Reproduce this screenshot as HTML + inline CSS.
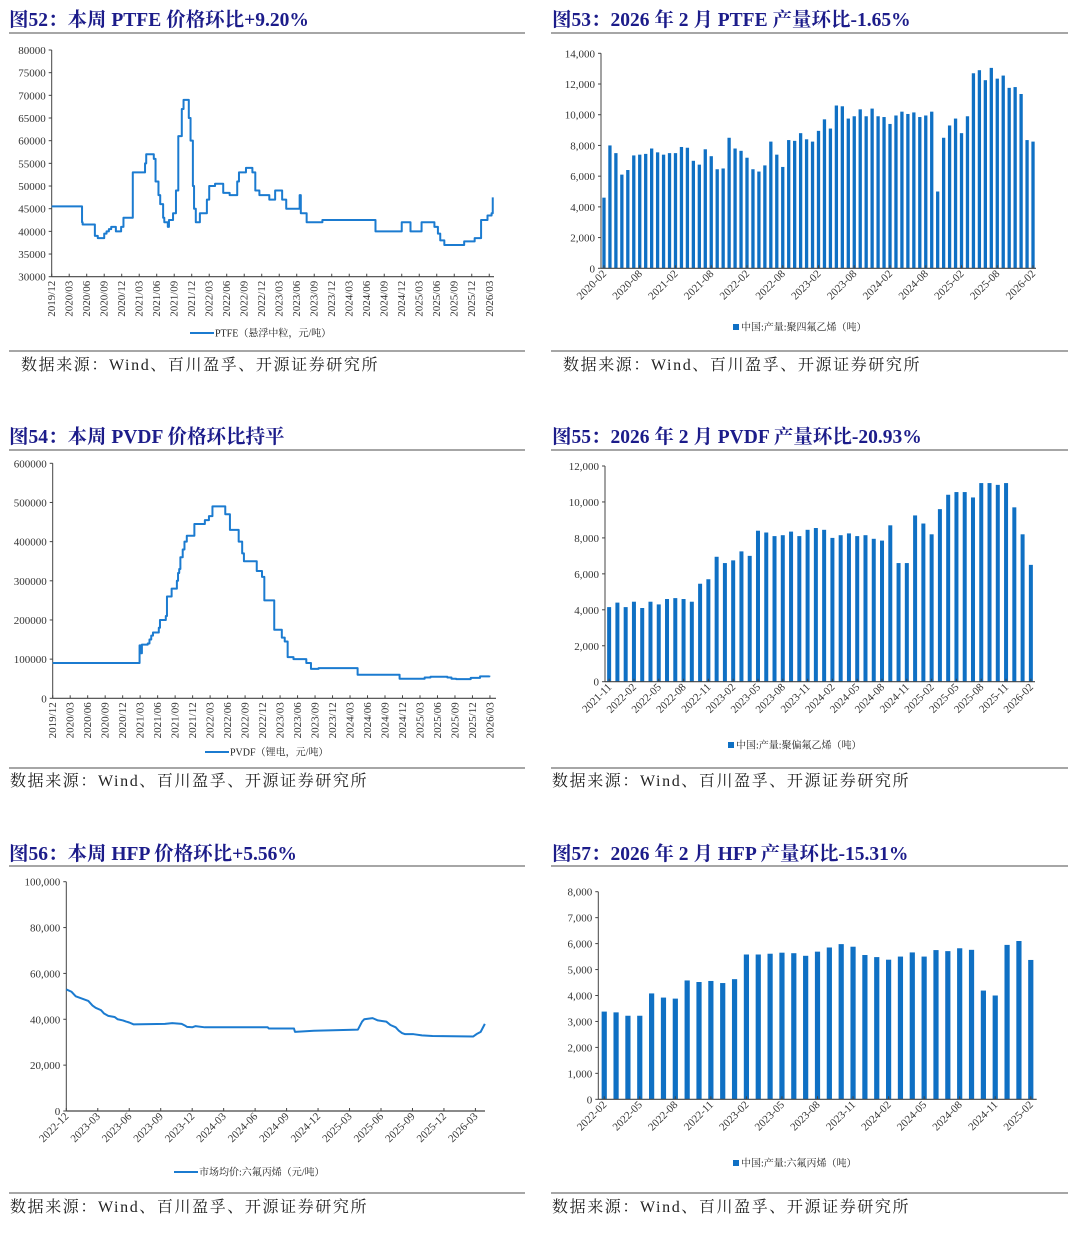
<!DOCTYPE html>
<html><head><meta charset="utf-8">
<style>
html,body{margin:0;padding:0;background:#fff;}
svg{display:block;font-family:"Liberation Serif","Noto Serif CJK SC",serif;}
.ttl{font-size:19.5px;font-weight:bold;fill:#1c1c8a;}
.src{font-size:16px;fill:#222;letter-spacing:1.6px;}
.tk{font-size:11px;fill:#333;}
.lg{font-size:10px;fill:#222;}
</style></head>
<body>
<svg id="root" width="1080" height="1238" viewBox="0 0 1080 1238" xmlns="http://www.w3.org/2000/svg">
<g>
<text class="ttl" x="9" y="26">图52：本周 PTFE 价格环比+9.20%</text>
<text class="ttl" x="552" y="26">图53：2026 年 2 月 PTFE 产量环比-1.65%</text>
<text class="ttl" x="9" y="443">图54：本周 PVDF 价格环比持平</text>
<text class="ttl" x="552" y="443">图55：2026 年 2 月 PVDF 产量环比-20.93%</text>
<text class="ttl" x="9" y="860">图56：本周 HFP 价格环比+5.56%</text>
<text class="ttl" x="552" y="860">图57：2026 年 2 月 HFP 产量环比-15.31%</text>
</g>
<g stroke="#888" stroke-width="1.5">
<line x1="9" x2="525" y1="33" y2="33"/><line x1="551" x2="1068" y1="33" y2="33"/>
<line x1="9" x2="525" y1="351" y2="351"/><line x1="551" x2="1068" y1="351" y2="351"/>
<line x1="9" x2="525" y1="450" y2="450"/><line x1="551" x2="1068" y1="450" y2="450"/>
<line x1="9" x2="525" y1="768" y2="768"/><line x1="551" x2="1068" y1="768" y2="768"/>
<line x1="9" x2="525" y1="866" y2="866"/><line x1="551" x2="1068" y1="866" y2="866"/>
<line x1="9" x2="525" y1="1193" y2="1193"/><line x1="551" x2="1068" y1="1193" y2="1193"/>
</g>
<g>
<text class="src" x="21" y="370">数据来源：Wind、百川盈孚、开源证券研究所</text>
<text class="src" x="563" y="370">数据来源：Wind、百川盈孚、开源证券研究所</text>
<text class="src" x="10" y="786">数据来源：Wind、百川盈孚、开源证券研究所</text>
<text class="src" x="552" y="786">数据来源：Wind、百川盈孚、开源证券研究所</text>
<text class="src" x="10" y="1212">数据来源：Wind、百川盈孚、开源证券研究所</text>
<text class="src" x="552" y="1212">数据来源：Wind、百川盈孚、开源证券研究所</text>
</g>
</svg>
<script>
// ---------- DATA ----------
const ptfeMonths = [0,5.2,5.3,7.4,7.9,9.0,9.4,9.8,10.2,11.0,11.9,12.3,13.9,16.0,16.2,17.5,17.8,18.3,18.6,19.1,19.3,19.9,20.1,20.8,21.3,21.7,22.3,22.6,23.5,23.8,24.2,24.4,24.7,25.4,26.6,27.0,28.0,29.4,30.5,31.8,32.1,33.3,34.4,34.9,35.6,37.3,38.3,39.5,40.2,42.5,42.7,42.9,43.7,46.4,55.5,60.0,61.5,63.4,65.6,66.2,66.6,67.3,70.7,72.5,73.6,74.7,75.4,75.6];
const ptfeValues = [45500,42000,41500,39000,38500,39500,40000,40500,41000,40000,41000,43000,53000,55000,57000,56000,51000,48000,46000,43000,42000,41000,42500,44000,49000,61000,67000,69000,65000,60000,50000,45000,42000,44000,47000,50000,50500,48500,48000,51000,53000,54000,53000,49000,48000,47000,49000,47000,45000,48000,44000,44000,42000,42500,40000,42000,40000,42000,41000,39500,38000,37000,37800,38500,42500,43500,44000,47500];
const ptfeYTicks = [30000,35000,40000,45000,50000,55000,60000,65000,70000,75000,80000];
const lineMonthLabels = ["2019/12","2020/03","2020/06","2020/09","2020/12","2021/03","2021/06","2021/09","2021/12","2022/03","2022/06","2022/09","2022/12","2023/03","2023/06","2023/09","2023/12","2024/03","2024/06","2024/09","2024/12","2025/03","2025/06","2025/09","2025/12","2026/03"];

const ptfeOutCats = ["2020-02","","","","","","2020-08","","","","","","2021-02","","","","","","2021-08","","","","","","2022-02","","","","","","2022-08","","","","","","2023-02","","","","","","2023-08","","","","","","2024-02","","","","","","2024-08","","","","","","2025-02","","","","","","2025-08","","","","","","2026-02"];
const ptfeOutValues = [4600,8000,7500,6100,6400,7350,7400,7450,7800,7550,7400,7500,7500,7900,7850,7000,6750,7750,7300,6450,6500,8500,7800,7650,7200,6450,6300,6700,8250,7400,6600,8350,8300,8800,8400,8250,8950,9700,9100,10600,10550,9750,9900,10350,9900,10400,9900,9850,9400,9950,10200,10050,10150,9850,9950,10200,5000,8500,9300,9750,8800,9900,12700,12900,12250,13050,12350,12550,11750,11800,11350,8350,8250];
const ptfeOutYTicks = [0,2000,4000,6000,8000,10000,12000,14000];

const pvdfMonths = [0,14.9,15.2,15.3,16.3,16.6,16.9,17.2,17.5,18.2,18.4,18.6,19.4,19.6,19.9,20.4,21.3,21.5,21.7,21.9,22.3,22.6,23.0,24.3,26.1,26.8,27.4,28.4,29.6,30.4,31.9,32.5,32.8,33.3,35.0,35.9,36.3,37.1,38.0,39.3,39.8,40.3,41.3,42.6,43.5,44.3,45.6,52.3,59.5,63.8,64.8,67.7,68.4,69.2,71.7,73.3,74.9];
const pvdfValues = [90000,135000,115000,137000,140000,150000,160000,168000,168000,180000,200000,200000,210000,260000,260000,280000,300000,320000,330000,360000,380000,400000,415000,445000,455000,465000,490000,490000,470000,430000,400000,370000,350000,350000,325000,310000,250000,250000,175000,155000,145000,105000,100000,100000,90000,75000,77000,60000,50000,53000,55000,53000,50000,49000,52000,56000,58000];
const pvdfYTicks = [0,100000,200000,300000,400000,500000,600000];

const pvdfOutCats = ["2021-11","","","2022-02","","","2022-05","","","2022-08","","","2022-11","","","2023-02","","","2023-05","","","2023-08","","","2023-11","","","2024-02","","","2024-05","","","2024-08","","","2024-11","","","2025-02","","","2025-05","","","2025-08","","","2025-11","","","2026-02"];
const pvdfOutValues = [4150,4400,4150,4450,4100,4450,4300,4600,4650,4600,4450,5450,5700,6950,6600,6750,7250,7000,8400,8300,8100,8150,8350,8100,8450,8550,8450,8000,8150,8250,8100,8150,7950,7850,8700,6600,6600,9250,8800,8200,9600,10400,10550,10550,10250,11050,11050,10950,11050,9700,8200,6500];
const pvdfOutYTicks = [0,2000,4000,6000,8000,10000,12000];

const hfpMonths = [0,0.5,0.9,2.1,2.5,2.8,3.3,3.6,4.0,4.6,4.9,5.4,5.7,6.0,6.4,9.4,10.1,11.0,11.3,11.5,12.0,12.3,13.2,19.2,19.3,21.7,21.8,23.6,27.8,28.2,28.4,29.2,29.7,30.5,30.9,31.4,31.7,32.0,32.3,33.1,33.9,34.9,38.8,39.1,39.5,39.9];
const hfpValues = [53000,52000,50000,48000,46000,45000,44000,42500,41500,41000,40000,39500,39000,38600,37800,38000,38300,38000,37300,36700,36500,37000,36500,36500,36000,36000,34500,35000,35500,39000,40000,40500,39500,39000,37500,36500,35000,34000,33500,33500,33000,32700,32500,33500,34500,38000];
const hfpYTicks = [0,20000,40000,60000,80000,100000];
const hfpMonthLabels = ["2022-12","2023-03","2023-06","2023-09","2023-12","2024-03","2024-06","2024-09","2024-12","2025-03","2025-06","2025-09","2025-12","2026-03"];

const hfpOutCats = ["2022-02","","","2022-05","","","2022-08","","","2022-11","","","2023-02","","","2023-05","","","2023-08","","","2023-11","","","2024-02","","","2024-05","","","2024-08","","","2024-11","","","2025-02"];
const hfpOutValues = [3380,3350,3220,3220,4080,3920,3880,4580,4520,4560,4480,4630,5580,5580,5610,5650,5630,5530,5690,5850,5980,5880,5560,5480,5380,5500,5660,5500,5750,5710,5820,5760,4190,4000,5950,6100,5370];
const hfpOutYTicks = [0,1000,2000,3000,4000,5000,6000,7000,8000];

// ---------- DRAW ----------
const NS = "http://www.w3.org/2000/svg";
const root = document.getElementById('root');
function mk(tag, attrs, parent){ const e=document.createElementNS(NS,tag); for(const k in attrs) e.setAttribute(k,attrs[k]); (parent||root).appendChild(e); return e; }
function fmt(v, comma){ return comma ? v.toLocaleString('en-US') : String(v); }
const BLUE = "#1b7bd0";

function drawYAxis(g, x0, yS, ticks, right, comma){
  const ax = mk('line',{x1:x0,x2:x0,y1:yS(ticks[ticks.length-1]),y2:yS(ticks[0]),stroke:'#444','stroke-width':1},g);
  
  
  const xa = mk('line',{x1:x0,x2:right,y1:yS(ticks[0]),y2:yS(ticks[0]),stroke:'#444','stroke-width':1.2},g);
  
  
  ticks.forEach(t=>{
    mk('line',{x1:x0-3,x2:x0,y1:yS(t),y2:yS(t),stroke:'#444'},g);
    const tx = mk('text',{x:x0-6,y:yS(t)+4,'text-anchor':'end',class:'tk'},g);
    tx.textContent = fmt(t, comma);
    
    
  });
}

function lineChart(name, months, values, yTicks, labels, x0, pxm, yTop, yBot, right, comma, step, legendX, legendY, legendText){
  const g = mk('g',{});
  
  
  const yMin=yTicks[0], yMax=yTicks[yTicks.length-1];
  const yS = v => yBot - (v-yMin)/(yMax-yMin)*(yBot-yTop);
  const xS = m => x0 + m*pxm;
  drawYAxis(g, x0, yS, yTicks, right, comma);
  labels.forEach((l,i)=>{
    const x = xS(i*3);
    mk('line',{x1:x,x2:x,y1:yBot,y2:yBot-3,stroke:'#444'},g);
    let tx;
    if(step){
      tx = mk('text',{x:0,y:0,'text-anchor':'end',class:'tk',transform:`translate(${x+3.5},${yBot+4}) rotate(-90)`},g);
    } else {
      tx = mk('text',{x:0,y:0,'text-anchor':'end',class:'tk',transform:`translate(${x+3},${yBot+6}) rotate(-45)`},g);
    }
    tx.textContent = l;
    
    
  });
  let d='';
  months.forEach((m,i)=>{
    const x=xS(m), y=yS(values[i]);
    if(i===0) d+=`M${x},${y}`;
    else if(step) d+=`H${x}V${y}`;
    else d+=`L${x},${y}`;
  });
  const p = mk('path',{d:d,fill:'none',stroke:BLUE,'stroke-width':2,'stroke-linejoin':'round'},g);
  
  
  const ll = mk('line',{x1:legendX,x2:legendX+24,y1:legendY,y2:legendY,stroke:BLUE,'stroke-width':2},g);
  
  
  const lt = mk('text',{x:legendX+25,y:legendY+3.5,class:'lg'},g);
  lt.textContent = legendText;
  
  
}

function barChart(name, cats, values, yTicks, x0, right, yTop, yBot, bw, legendX, legendY, legendText){
  const g = mk('g',{});
  
  
  const yMin=yTicks[0], yMax=yTicks[yTicks.length-1];
  const yS = v => yBot - (v-yMin)/(yMax-yMin)*(yBot-yTop);
  const slot = (right-x0)/cats.length;
  const xC = i => x0 + (i+0.5)*slot;
  values.forEach((v,i)=>{
    const r = mk('rect',{x:xC(i)-bw/2,y:yS(v),width:bw,height:yBot-yS(v),fill:'#0f70c4'},g);
    
    
  });
  drawYAxis(g, x0, yS, yTicks, right, true);
  cats.forEach((c,i)=>{
    if(!c) return;
    const x = xC(i);
    mk('line',{x1:x,x2:x,y1:yBot,y2:yBot-3,stroke:'#444'},g);
    const tx = mk('text',{x:0,y:0,'text-anchor':'end',class:'tk',transform:`translate(${x+3},${yBot+6}) rotate(-45)`},g);
    tx.textContent = c;
    
    
  });
  const sw = mk('rect',{x:legendX,y:legendY-3,width:6,height:6,fill:'#0f70c4'},g);
  
  
  const lt = mk('text',{x:legendX+8,y:legendY+3.5,class:'lg'},g);
  lt.textContent = legendText;
  
  
}

lineChart('chart-ptfe-price', ptfeMonths, ptfeValues, ptfeYTicks, lineMonthLabels, 51.7, 5.834, 50, 276.7, 494, false, true, 190, 333, 'PTFE（悬浮中粒，元/吨）');
barChart('chart-ptfe-output', ptfeOutCats, ptfeOutValues, ptfeOutYTicks, 601, 1036, 53.3, 268.3, 3.3, 733, 327, '中国:产量:聚四氟乙烯（吨）');
lineChart('chart-pvdf-price', pvdfMonths, pvdfValues, pvdfYTicks, lineMonthLabels, 52.7, 5.83, 463.3, 698.3, 496, false, true, 205, 752, 'PVDF（锂电，元/吨）');
barChart('chart-pvdf-output', pvdfOutCats, pvdfOutValues, pvdfOutYTicks, 605, 1035, 466, 681.7, 4, 728, 745, '中国:产量:聚偏氟乙烯（吨）');
lineChart('chart-hfp-price', hfpMonths, hfpValues, hfpYTicks, hfpMonthLabels, 66.3, 10.49, 881.7, 1111, 485, true, false, 174, 1172, '市场均价:六氟丙烯（元/吨）');
barChart('chart-hfp-output', hfpOutCats, hfpOutValues, hfpOutYTicks, 598.3, 1036.7, 891.7, 1099.3, 5.2, 733, 1163, '中国:产量:六氟丙烯（吨）');
</script>
</body></html>
